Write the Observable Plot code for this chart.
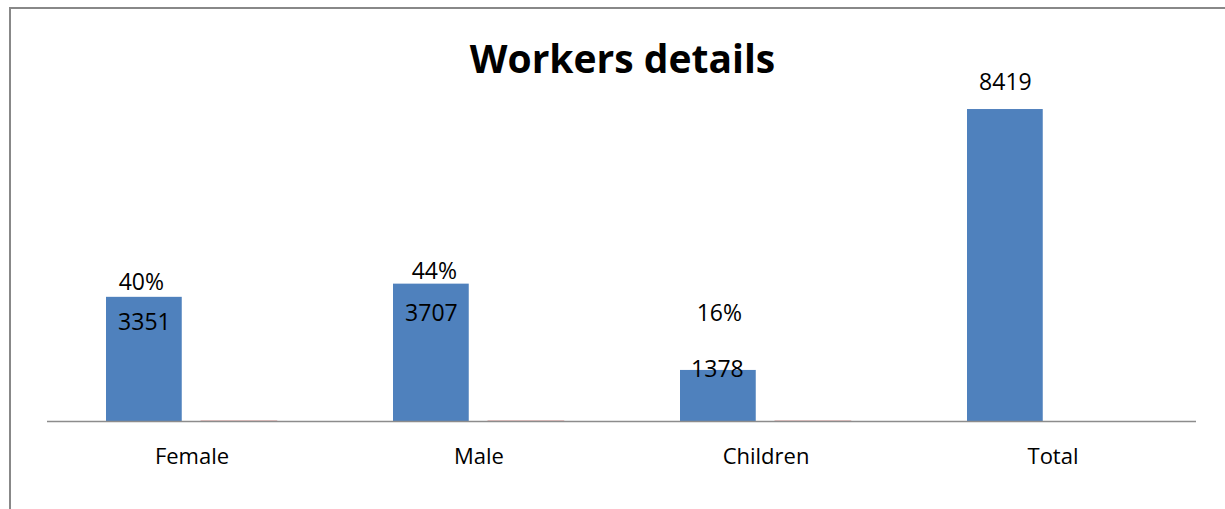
<!DOCTYPE html>
<html>
<head>
<meta charset="utf-8">
<script src="https://cdn.jsdelivr.net/npm/d3@7"></script>
<script src="https://cdn.jsdelivr.net/npm/@observablehq/plot@0.6"></script>
<style>
  html, body { margin: 0; padding: 0; background: #fff; }
  #wrap { position: relative; width: 1225px; height: 509px; overflow: hidden; font-family: "Open Sans", sans-serif; }
  #frame { position: absolute; left: 9px; top: 7px; right: -5px; bottom: -5px; border-left: 2px solid #888; border-top: 2px solid #888; }
  #title { position: absolute; left: 0; width: 1245px; top: 31px; text-align: center; font-weight: bold; font-size: 39px; line-height: 54px; color: #000; }
  #chart { position: absolute; left: 0; top: 0; }
</style>
</head>
<body>
<div id="wrap">
  <div id="frame"></div>
  <div id="chart"></div>
  <div id="title">Workers details</div>
</div>
<script>
const categories = ["Female", "Male", "Children", "Total"];
const counts = [3351, 3707, 1378, 8419];
const shares = [0.40, 0.44, 0.16, null];
const shareLabels = ["40%", "44%", "16%", null];

const rows = categories.map((c, i) => ({category: c, count: counts[i], share: shares[i], shareLabel: shareLabels[i]}));

const bandW = (1225 - 47 - 29) / 4;
const blueL = 58, barW = 76, gap = 19;
const blueR = bandW - blueL - barW;
const redL = blueL + barW + gap, redR = bandW - redL - barW;
const blueDx = blueL + barW / 2 - bandW / 2;

const fontLab = 23;
const sel = (names) => rows.filter(d => names.includes(d.category));

const chart = Plot.plot({
  width: 1225,
  height: 509,
  marginLeft: 47,
  marginRight: 29,
  marginTop: 87.5,
  marginBottom: 88,
  style: {fontFamily: "'Open Sans', sans-serif", background: "transparent", overflow: "visible"},
  x: {domain: categories, padding: 0, label: null},
  y: {domain: [0, 9000], axis: null},
  marks: [
    Plot.barY(rows, {x: "category", y: "count", fill: "#4f81bd", insetLeft: blueL, insetRight: blueR}),
    Plot.barY(rows.filter(d => d.share != null), {x: "category", y: "share", fill: "#c0504d", stroke: "#c0504d", strokeWidth: 1, strokeOpacity: 0.6, insetLeft: redL, insetRight: redR}),
    Plot.ruleY([0], {stroke: "#8c8c8c", strokeWidth: 1.5}),
    Plot.axisX({tickSize: 0, tickPadding: 27, fontSize: 22, label: null, fill: "#000"}),
    // count labels
    Plot.text(sel(["Female"]), {x: "category", y: "count", text: d => String(d.count), dx: blueDx, dy: 25, fontSize: fontLab, fill: "#000"}),
    Plot.text(sel(["Male"]), {x: "category", y: "count", text: d => String(d.count), dx: blueDx, dy: 29, fontSize: fontLab, fill: "#000"}),
    Plot.text(sel(["Children"]), {x: "category", y: "count", text: d => String(d.count), dx: blueDx - 1, dy: -1, fontSize: fontLab, fill: "#000"}),
    Plot.text(sel(["Total"]), {x: "category", y: "count", text: d => String(d.count), dx: blueDx, dy: -27, fontSize: fontLab, fill: "#000"}),
    // share labels
    Plot.text(sel(["Female"]), {x: "category", y: "count", text: "shareLabel", dx: blueDx - 3, dy: -15, fontSize: fontLab, fill: "#000"}),
    Plot.text(sel(["Male"]), {x: "category", y: "count", text: "shareLabel", dx: blueDx + 3, dy: -13, fontSize: fontLab, fill: "#000"}),
    Plot.text(sel(["Children"]), {x: "category", y: "count", text: "shareLabel", dx: blueDx + 1, dy: -57, fontSize: fontLab, fill: "#000"})
  ]
});
document.getElementById("chart").appendChild(chart);
</script>
</body>
</html>
